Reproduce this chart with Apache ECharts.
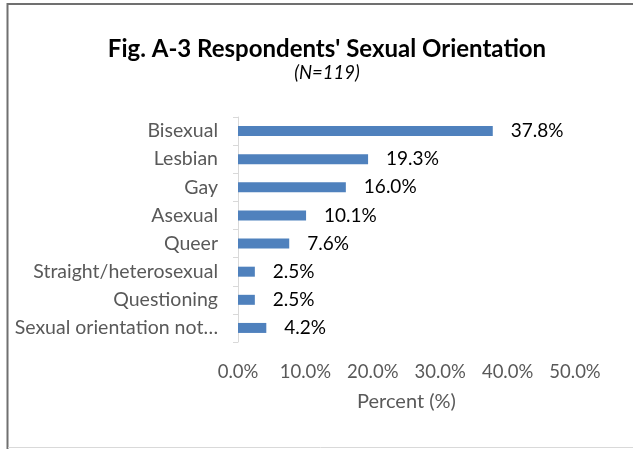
<!DOCTYPE html>
<html>
<head>
<meta charset="utf-8">
<script src="https://cdn.jsdelivr.net/npm/echarts@6/dist/echarts.min.js"></script>
<style>
  html, body { margin: 0; padding: 0; background: #fff; }
  #chart { width: 633px; height: 449px; }
</style>
</head>
<body>
<div id="chart"></div>
<script>
// categories top to bottom, as shown
const categories = [
  'Bisexual',
  'Lesbian',
  'Gay',
  'Asexual',
  'Queer',
  'Straight/heterosexual',
  'Questioning',
  'Sexual orientation not\u2026',
]
const percents = [37.8, 19.3, 16.0, 10.1, 7.6, 2.5, 2.5, 4.2]
const xTicks = [0, 10, 20, 30, 40, 50]

const font = 'Lato, "Open Sans", sans-serif'
const chart = echarts.init(document.getElementById('chart'))

chart.setOption({
  animation: false,
  title: {
    text: "Fig. A-3 Respondents' Sexual Orientation",
    subtext: '(N=119)',
    left: 322,
    textAlign: 'center',
    top: 32,
    itemGap: 3,
    textStyle: { fontFamily: font, fontSize: 24, fontWeight: 'bold', color: '#000' },
    subtextStyle: { fontFamily: font, fontSize: 18.5, fontStyle: 'italic', color: '#000' },
  },
  graphic: [
    {
      type: 'rect',
      shape: { x: 7.5, y: 4, width: 640, height: 460 },
      style: { fill: 'none', stroke: '#707070', lineWidth: 2 },
      silent: true,
    },
    {
      type: 'line',
      shape: { x1: 8, y1: 447.5, x2: 633, y2: 447.5 },
      style: { stroke: '#d9d9d9', lineWidth: 1 },
      silent: true,
    },
  ],
  grid: { left: 238, right: 58, top: 117, bottom: 107 },
  xAxis: {
    type: 'value',
    min: xTicks[0],
    max: xTicks[xTicks.length - 1],
    interval: 10,
    name: 'Percent (%)',
    nameLocation: 'middle',
    nameGap: 50,
    nameTextStyle: { fontFamily: font, fontSize: 20, color: '#595959' },
    axisLine: { show: false },
    axisTick: { show: false },
    splitLine: { show: false },
    axisLabel: {
      margin: 21,
      fontFamily: font,
      fontSize: 18.5,
      color: '#595959',
      formatter: v => v.toFixed(1) + '%',
    },
  },
  yAxis: {
    type: 'category',
    inverse: true,
    data: categories,
    axisLine: { show: true, lineStyle: { color: '#d9d9d9', width: 1 } },
    axisTick: { show: true, length: 5, lineStyle: { color: '#d9d9d9' } },
    axisLabel: { margin: 20, fontFamily: font, fontSize: 19.5, color: '#595959' },
  },
  series: [{
    type: 'bar',
    data: percents,
    barWidth: 10,
    itemStyle: { color: '#4f81bd' },
    label: {
      show: true,
      position: 'right',
      distance: 18,
      fontFamily: font,
      fontSize: 19,
      color: '#000',
      formatter: p => p.value.toFixed(1) + '%',
    },
  }],
})
</script>
</body>
</html>
